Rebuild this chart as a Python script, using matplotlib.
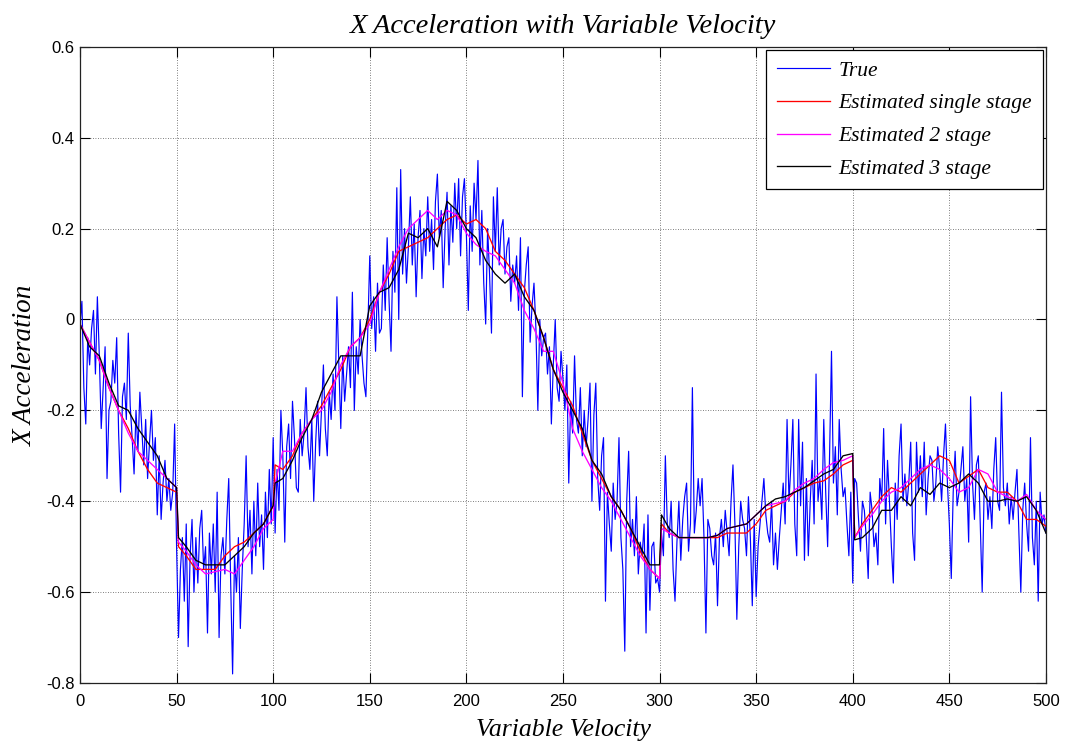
import matplotlib
matplotlib.use("Agg")
import matplotlib.pyplot as plt

# Measured acceleration (one sample per velocity step, 0..500)
true_accel = [
    -0.01, 0.04, -0.15, -0.23, -0.04, -0.10, -0.02, 0.02, -0.12, 0.05,
    -0.08, -0.24, -0.15, -0.06, -0.35, -0.20, -0.18, -0.09, -0.14, -0.04,
    -0.25, -0.38, -0.17, -0.14, -0.22, -0.03, -0.19, -0.26, -0.34, -0.20,
    -0.29, -0.16, -0.24, -0.32, -0.22, -0.35, -0.27, -0.20, -0.31, -0.26,
    -0.43, -0.30, -0.44, -0.36, -0.31, -0.40, -0.35, -0.42, -0.38, -0.23,
    -0.50, -0.70, -0.55, -0.48, -0.62, -0.45, -0.72, -0.52, -0.44, -0.60,
    -0.48, -0.58, -0.46, -0.42, -0.55, -0.50, -0.69, -0.47, -0.56, -0.45,
    -0.60, -0.38, -0.70, -0.52, -0.48, -0.56, -0.44, -0.35, -0.58, -0.78,
    -0.52, -0.60, -0.48, -0.68, -0.55, -0.45, -0.30, -0.50, -0.42, -0.56,
    -0.40, -0.52, -0.36, -0.50, -0.43, -0.55, -0.38, -0.48, -0.33, -0.45,
    -0.26, -0.47, -0.33, -0.42, -0.20, -0.30, -0.49, -0.28, -0.23, -0.35,
    -0.18, -0.26, -0.37, -0.38, -0.22, -0.30, -0.25, -0.15, -0.28, -0.33,
    -0.22, -0.40, -0.27, -0.18, -0.30, -0.20, -0.10, -0.24, -0.30, -0.16,
    -0.22, -0.12, -0.20, 0.05, -0.10, -0.24, -0.08, -0.18, -0.12, -0.06,
    -0.15, 0.06, -0.20, -0.06, -0.12, 0.00, -0.08, -0.14, -0.17, -0.02,
    0.14, -0.02, 0.05, -0.07, 0.08, -0.03, -0.02, 0.12, 0.02, 0.18,
    0.04, -0.07, 0.15, 0.06, 0.29, 0.00, 0.33, 0.10, 0.20, 0.08,
    0.16, 0.27, 0.12, 0.21, 0.05, 0.18, 0.24, 0.09, 0.20, 0.14,
    0.27, 0.15, 0.22, 0.11, 0.26, 0.32, 0.18, 0.24, 0.07, 0.20,
    0.28, 0.12, 0.25, 0.17, 0.30, 0.20, 0.31, 0.14, 0.27, 0.31,
    0.19, 0.02, 0.25, 0.15, 0.30, 0.22, 0.35, 0.12, 0.24, 0.08,
    -0.01, 0.20, 0.10, -0.03, 0.27, 0.15, 0.29, 0.12, 0.20, 0.22,
    0.10, 0.16, 0.18, 0.04, 0.12, 0.08, 0.14, 0.02, 0.18, -0.17,
    0.06, 0.12, 0.16, -0.05, 0.03, 0.08, -0.02, -0.20, 0.00, -0.08,
    -0.04, -0.03, -0.12, -0.06, -0.23, -0.10, 0.00, -0.15, -0.18, -0.07,
    -0.13, -0.20, -0.10, -0.36, -0.18, -0.25, -0.08, -0.22, -0.25, -0.15,
    -0.30, -0.20, -0.28, -0.22, -0.14, -0.40, -0.21, -0.14, -0.35, -0.42,
    -0.30, -0.26, -0.62, -0.38, -0.45, -0.51, -0.36, -0.44, -0.40, -0.26,
    -0.48, -0.55, -0.73, -0.40, -0.29, -0.50, -0.44, -0.52, -0.39, -0.56,
    -0.49, -0.52, -0.45, -0.69, -0.43, -0.64, -0.50, -0.49, -0.58, -0.57,
    -0.60, -0.47, -0.52, -0.30, -0.45, -0.48, -0.40, -0.55, -0.62, -0.49,
    -0.40, -0.53, -0.44, -0.39, -0.36, -0.51, -0.45, -0.15, -0.47, -0.42,
    -0.35, -0.41, -0.35, -0.48, -0.69, -0.44, -0.46, -0.52, -0.54, -0.47,
    -0.63, -0.48, -0.44, -0.50, -0.42, -0.47, -0.52, -0.40, -0.32, -0.45,
    -0.66, -0.50, -0.40, -0.44, -0.46, -0.52, -0.39, -0.48, -0.63, -0.44,
    -0.61, -0.50, -0.45, -0.40, -0.35, -0.43, -0.47, -0.49, -0.40, -0.54,
    -0.47, -0.55, -0.48, -0.42, -0.36, -0.45, -0.22, -0.40, -0.32, -0.22,
    -0.45, -0.52, -0.22, -0.41, -0.27, -0.53, -0.35, -0.52, -0.40, -0.31,
    -0.45, -0.12, -0.40, -0.35, -0.44, -0.22, -0.38, -0.50, -0.30, -0.07,
    -0.36, -0.28, -0.43, -0.22, -0.33, -0.39, -0.37, -0.45, -0.52, -0.38,
    -0.58, -0.35, -0.36, -0.44, -0.51, -0.40, -0.42, -0.48, -0.57, -0.38,
    -0.42, -0.50, -0.47, -0.54, -0.35, -0.40, -0.24, -0.45, -0.31, -0.40,
    -0.50, -0.58, -0.36, -0.44, -0.30, -0.23, -0.40, -0.34, -0.41, -0.36,
    -0.27, -0.47, -0.53, -0.27, -0.38, -0.30, -0.39, -0.27, -0.43, -0.35,
    -0.30, -0.31, -0.40, -0.36, -0.28, -0.33, -0.40, -0.30, -0.23, -0.36,
    -0.45, -0.57, -0.38, -0.29, -0.41, -0.38, -0.33, -0.28, -0.40, -0.35,
    -0.49, -0.17, -0.36, -0.44, -0.32, -0.30, -0.45, -0.60, -0.38, -0.36,
    -0.44, -0.39, -0.46, -0.33, -0.26, -0.40, -0.42, -0.16, -0.37, -0.41,
    -0.36, -0.45, -0.39, -0.44, -0.38, -0.33, -0.47, -0.60, -0.42, -0.36,
    -0.45, -0.51, -0.26, -0.48, -0.54, -0.40, -0.62, -0.38, -0.45, -0.43,
    -0.47,
]
true_velocity = list(range(len(true_accel)))

# Velocity points at which the filter estimates are plotted
est_velocity = [
    0, 5, 10, 15, 20, 25, 30, 35, 40, 45, 50,
    51, 55, 60, 65, 70, 75, 80, 85, 90, 95, 100,
    101, 105, 110, 115, 120, 125, 130, 135, 140, 145, 150,
    155, 160, 165, 170, 175, 180, 185, 190, 195, 200,
    205, 210, 215, 220, 225, 230, 235, 240, 245, 250,
    255, 260, 265, 270, 275, 280, 285, 290, 295, 300,
    301, 305, 310, 315, 320, 325, 330, 335, 340, 345, 350,
    355, 360, 365, 370, 375, 380, 385, 390, 395, 400,
    401, 405, 410, 415, 420, 425, 430, 435, 440, 445, 450,
    455, 460, 465, 470, 475, 480, 485, 490, 495, 500,
]

est_single = [
    -0.01, -0.05, -0.09, -0.15, -0.20, -0.24, -0.29, -0.33, -0.36, -0.37, -0.38,
    -0.50, -0.52, -0.55, -0.55, -0.55, -0.52, -0.50, -0.49, -0.47, -0.45, -0.41,
    -0.32, -0.33, -0.30, -0.25, -0.22, -0.19, -0.15, -0.11, -0.06, -0.04, 0.00,
    0.06, 0.10, 0.15, 0.16, 0.17, 0.18, 0.20, 0.22, 0.23, 0.21,
    0.22, 0.20, 0.15, 0.13, 0.10, 0.07, 0.02, -0.04, -0.11, -0.15,
    -0.19, -0.25, -0.31, -0.35, -0.39, -0.42, -0.46, -0.51, -0.55, -0.57,
    -0.45, -0.47, -0.48, -0.48, -0.48, -0.48, -0.48, -0.47, -0.47, -0.47, -0.45,
    -0.42, -0.41, -0.40, -0.38, -0.37, -0.36, -0.355, -0.34, -0.32, -0.31,
    -0.48, -0.45, -0.42, -0.39, -0.37, -0.38, -0.36, -0.34, -0.32, -0.30, -0.31,
    -0.36, -0.345, -0.33, -0.37, -0.38, -0.38, -0.40, -0.44, -0.44, -0.455,
]

est_two = [
    -0.01, -0.05, -0.09, -0.15, -0.20, -0.25, -0.29, -0.31, -0.33, -0.35, -0.37,
    -0.49, -0.51, -0.54, -0.56, -0.555, -0.55, -0.56, -0.53, -0.50, -0.46, -0.44,
    -0.36, -0.29, -0.29, -0.25, -0.22, -0.20, -0.16, -0.10, -0.06, -0.04, -0.01,
    0.06, 0.11, 0.16, 0.20, 0.22, 0.24, 0.22, 0.24, 0.23, 0.19,
    0.165, 0.15, 0.14, 0.11, 0.08, 0.02, -0.02, -0.07, -0.07, -0.14,
    -0.24, -0.29, -0.33, -0.37, -0.40, -0.44, -0.48, -0.52, -0.55, -0.57,
    -0.46, -0.47, -0.48, -0.48, -0.48, -0.48, -0.475, -0.46, -0.455, -0.45, -0.43,
    -0.41, -0.405, -0.40, -0.375, -0.36, -0.35, -0.33, -0.315, -0.31, -0.30,
    -0.48, -0.455, -0.43, -0.40, -0.38, -0.37, -0.35, -0.33, -0.32, -0.33, -0.35,
    -0.38, -0.37, -0.33, -0.34, -0.38, -0.39, -0.40, -0.385, -0.42, -0.44,
]

est_three = [
    -0.01, -0.06, -0.08, -0.14, -0.19, -0.20, -0.24, -0.27, -0.30, -0.35, -0.37,
    -0.48, -0.50, -0.53, -0.54, -0.54, -0.54, -0.52, -0.50, -0.47, -0.45, -0.41,
    -0.36, -0.35, -0.31, -0.26, -0.22, -0.16, -0.12, -0.08, -0.08, -0.08, 0.03,
    0.06, 0.07, 0.11, 0.19, 0.18, 0.20, 0.16, 0.26, 0.24, 0.20,
    0.18, 0.13, 0.10, 0.08, 0.10, 0.05, 0.02, -0.04, -0.11, -0.16,
    -0.20, -0.24, -0.31, -0.34, -0.39, -0.42, -0.46, -0.50, -0.54, -0.54,
    -0.43, -0.46, -0.48, -0.48, -0.48, -0.48, -0.475, -0.46, -0.455, -0.45, -0.43,
    -0.41, -0.395, -0.39, -0.38, -0.37, -0.355, -0.34, -0.33, -0.30, -0.295,
    -0.485, -0.48, -0.46, -0.42, -0.42, -0.39, -0.41, -0.37, -0.385, -0.36, -0.37,
    -0.36, -0.34, -0.36, -0.40, -0.40, -0.395, -0.40, -0.39, -0.42, -0.47,
]

series_labels = ["True", "Estimated single stage", "Estimated 2 stage", "Estimated 3 stage"]
x_ticks = [0, 50, 100, 150, 200, 250, 300, 350, 400, 450, 500]
y_ticks = [-0.8, -0.6, -0.4, -0.2, 0, 0.2, 0.4, 0.6]
y_tick_labels = ["-0.8", "-0.6", "-0.4", "-0.2", "0", "0.2", "0.4", "0.6"]

serif = ["Liberation Serif", "DejaVu Serif"]

fig = plt.figure(figsize=(10.65, 7.44), dpi=100)
ax = fig.add_axes([0.0751, 0.082, 0.907, 0.855])

ax.plot(true_velocity, true_accel, color="#0000ff", lw=0.85, label=series_labels[0])
ax.plot(est_velocity, est_single, color="#ff0000", lw=0.95, label=series_labels[1])
ax.plot(est_velocity, est_two, color="#ff00ff", lw=0.95, label=series_labels[2])
ax.plot(est_velocity, est_three, color="#000000", lw=0.95, label=series_labels[3])

ax.set_xlim(0, 500)
ax.set_ylim(-0.8, 0.6)
ax.set_xticks(x_ticks)
ax.set_yticks(y_ticks)
ax.set_yticklabels(y_tick_labels)
ax.tick_params(direction="in", top=True, right=True, length=7, width=0.8,
               labelsize=12)
ax.tick_params(axis="y", pad=4)
ax.tick_params(axis="x", pad=8)
for lbl in ax.get_xticklabels() + ax.get_yticklabels():
    lbl.set_family(["Liberation Sans", "DejaVu Sans"])

ax.grid(True, color="#555555", linestyle=(0, (1, 2)), linewidth=0.6)
for s in ax.spines.values():
    s.set_linewidth(0.9)
    s.set_color("#222222")

ax.set_title("X Acceleration with Variable Velocity", family=serif, style="italic",
             fontsize=20.5, pad=10)
ax.set_xlabel("Variable Velocity", family=serif, style="italic", fontsize=18.5, labelpad=7)
ax.set_ylabel("X Acceleration", family=serif, style="italic", fontsize=19.5, labelpad=6)

leg = ax.legend(loc="upper right", prop={"family": serif, "style": "italic", "size": 15.5},
                fancybox=False, framealpha=1, edgecolor="black", borderpad=0.5,
                handlelength=2.45, handletextpad=0.4, labelspacing=0.58,
                borderaxespad=0.15)
leg.get_frame().set_linewidth(0.9)

fig.savefig("out.png", dpi=100)
